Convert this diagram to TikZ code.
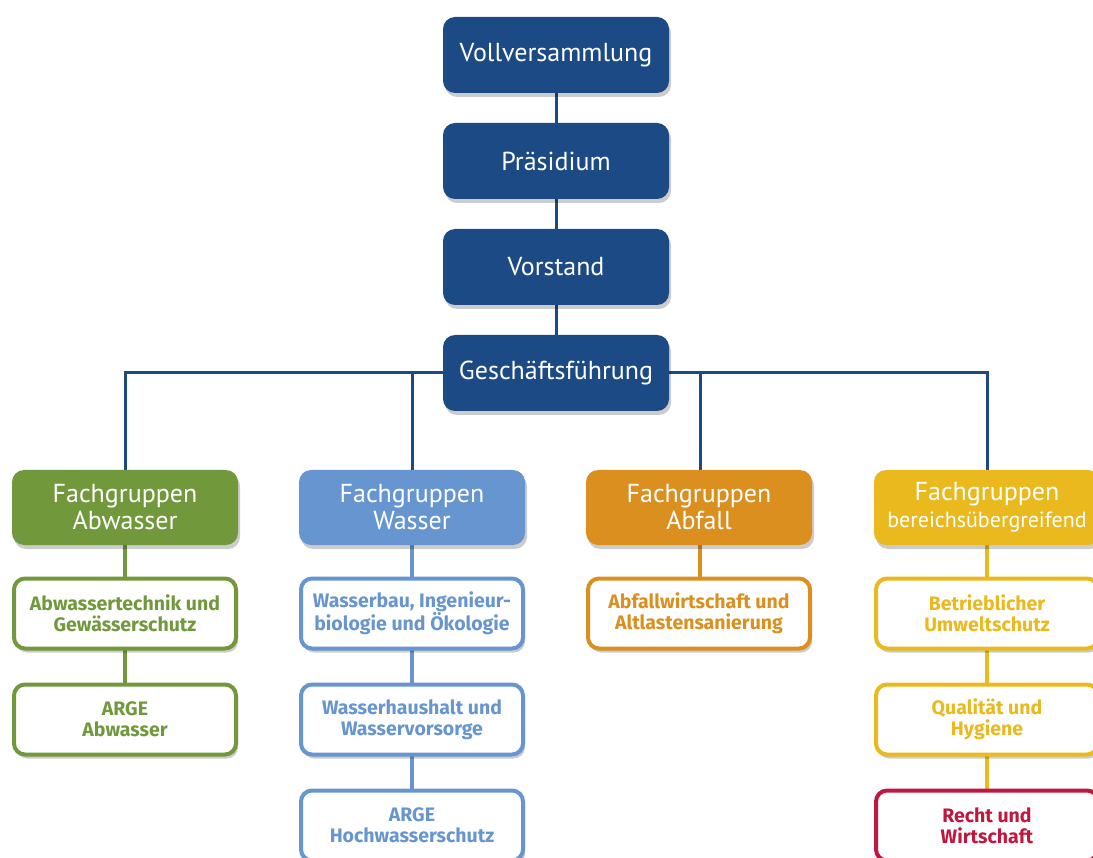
\documentclass[tikz,border=0pt]{standalone}
\usepackage{fontspec}
\setmainfont{PT Sans}
\newfontfamily\subfont{Fira Sans}
\usetikzlibrary{shadows}
\definecolor{dblue}{HTML}{1B4A84}
\definecolor{cgreen}{HTML}{72983C}
\definecolor{cblue}{HTML}{6795CF}
\definecolor{corange}{HTML}{DB8F1F}
\definecolor{cyellow}{HTML}{E9B91D}
\definecolor{cred}{HTML}{C0173F}
\tikzset{
  shd/.style={drop shadow={shadow xshift=2pt,shadow yshift=-4pt,opacity=0.2,fill=black}},
  topbox/.style={shd,rounded corners=12pt,fill=dblue,text=white,minimum width=226pt,minimum height=76pt,inner sep=0pt,font=\fontsize{26}{28}\selectfont},
  hdr/.style={shd,rounded corners=12pt,fill=#1,text=white,minimum width=226pt,minimum height=75pt,inner sep=0pt,align=center,font=\fontsize{26}{27}\selectfont},
  subbox/.style={shd,rounded corners=11pt,draw=#1,line width=4pt,fill=white,text=#1,minimum width=222pt,minimum height=70pt,inner sep=0pt,align=center,font=\subfont\bfseries\fontsize{19.5}{21}\selectfont},
  trunk/.style={draw=dblue,line width=3pt},
  link/.style={draw=#1,line width=4pt}
}
\begin{document}
\begin{tikzpicture}[x=1pt,y=-1pt]
\useasboundingbox (0,0) rectangle (1093,858);
\clip (0,0) rectangle (1093,858);
% connectors first
\coordinate (bl) at (125,373);
\coordinate (br) at (987,373);
\draw[trunk] (556,54) -- (556,372);
\draw[trunk] (bl) -- (br);
\draw[trunk] (125,371) -- (125,470);
\draw[trunk] (412,371) -- (412,470);
\draw[trunk] (700,371) -- (700,470);
\draw[trunk] (987,371) -- (987,470);
\draw[link=cgreen] (125,507) -- (125,720);
\draw[link=cblue] (412,507) -- (412,826);
\draw[link=corange] (700,507) -- (700,613);
\draw[link=cyellow] (987,507) -- (987,826);

\node[topbox] (vv) at (556,55) {Vollversammlung};
\node[topbox] (pr) at (556,161) {Präsidium};
\node[topbox] (vo) at (556,267) {Vorstand};
\node[topbox] (gf) at (556,373) {Geschäftsführung};

\node[hdr=cgreen] (fa) at (125,507.5) {Fachgruppen\\Abwasser};
\node[hdr=cblue] (fw) at (412,507.5) {Fachgruppen\\Wasser};
\node[hdr=corange] (ff) at (699,507.5) {Fachgruppen\\Abfall};
\node[hdr=cyellow] (fb) at (987,507.5) {Fachgruppen\\{\fontsize{22}{27}\selectfont bereichsübergreifend}};

\node[subbox=cgreen] (a1) at (125,613.5) {Abwassertechnik und\\Gewässerschutz};
\node[subbox=cgreen] (a2) at (125,719.5) {ARGE\\Abwasser};
\node[subbox=cblue] (w1) at (412,613.5) {Wasserbau, Ingenieur-\\biologie und Ökologie};
\node[subbox=cblue] (w2) at (412,719.5) {Wasserhaushalt und\\Wasservorsorge};
\node[subbox=cblue] (w3) at (412,825.5) {ARGE\\Hochwasserschutz};
\node[subbox=corange] (f1) at (699,613.5) {Abfallwirtschaft und\\Altlastensanierung};
\node[subbox=cyellow] (b1) at (987,613.5) {Betrieblicher\\Umweltschutz};
\node[subbox=cyellow] (b2n) at (987,719.5) {Qualität und\\Hygiene};
\node[subbox=cred] (b3n) at (987,825.5) {Recht und\\Wirtschaft};
\end{tikzpicture}
\end{document}
